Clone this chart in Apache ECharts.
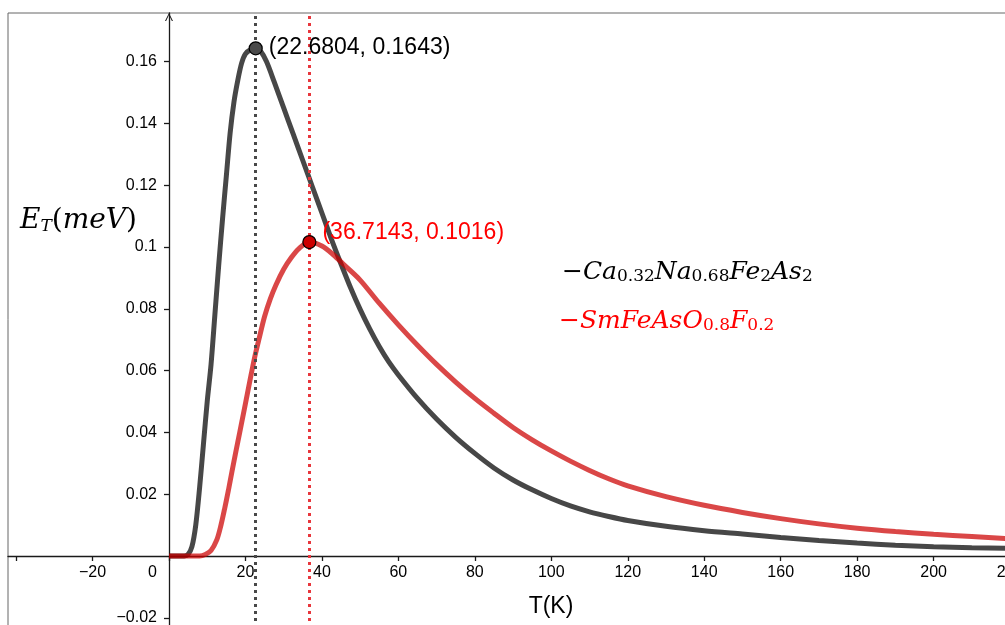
<!DOCTYPE html>
<html>
<head>
<meta charset="utf-8">
<script src="https://cdn.jsdelivr.net/npm/echarts@6/dist/echarts.min.js"></script>
<style>html,body{margin:0;padding:0;background:#fff}#c{width:1005px;height:625px}</style>
</head>
<body>
<div id="c"></div>
<script>
// ---- data ----
const blackT = [0,4,5,6,7,8,9,10,11,12,13,14,15,16,17,18,19,20,21.5,22.68,24,25.5,27.5,30,32.5,35,37.5,40,42.5,45,47.5,50,52.5,55,57.5,60,65,70,75,80,85,90,95,100,105,110,115,120,130,140,150,160,170,180,190,200,210,220];
const blackE = [0,0,0.0005,0.003,0.010,0.022,0.036,0.050,0.062,0.078,0.094,0.109,0.123,0.137,0.147,0.154,0.1595,0.1625,0.1640,0.1643,0.1633,0.1600,0.1535,0.1450,0.1365,0.1280,0.1195,0.1110,0.1025,0.0945,0.0868,0.0798,0.0735,0.0678,0.0628,0.0586,0.0510,0.0443,0.0384,0.0332,0.0285,0.0246,0.0214,0.0186,0.0162,0.0143,0.0128,0.0115,0.0096,0.0082,0.0071,0.0060,0.0050,0.0042,0.0035,0.0030,0.0027,0.0025];
const redT = [0,8,9.5,11,12.5,13.5,14.5,15.5,16.5,17.5,18.5,19.5,20.5,21.5,22.5,23.5,25,26.5,28,30,32,34,36.71,40,43,46,50,55,60,65,70,75,80,85,90,95,100,105,110,115,120,130,140,150,160,170,180,190,200,210,220];
const redE = [0,0,0.0005,0.0018,0.0052,0.0095,0.0150,0.0210,0.0275,0.0338,0.0400,0.0462,0.0525,0.0588,0.0648,0.0700,0.0775,0.0832,0.0878,0.0928,0.0966,0.0995,0.1016,0.1003,0.0975,0.0940,0.0893,0.0818,0.0748,0.0682,0.0620,0.0563,0.0510,0.0462,0.0416,0.0376,0.0340,0.0307,0.0277,0.0250,0.0227,0.0192,0.0164,0.0141,0.0121,0.0104,0.0090,0.0079,0.0070,0.0063,0.0056];
const peakT = [22.6804, 36.7143];
const peakE = [0.1643, 0.1016];
const xTicks = [-40,-20,0,20,40,60,80,100,120,140,160,180,200,220];
const xLabels = [-20,0,20,40,60,80,100,120,140,160,180,200,220];
const yTicks = [-0.02,0.02,0.04,0.06,0.08,0.1,0.12,0.14,0.16];
const yLabels = [-0.02,0.02,0.04,0.06,0.08,0.1,0.12,0.14,0.16];
const xTitle = 'T(K)';

const blackData = blackT.map((t,i)=>[t, blackE[i]]);
const redData = redT.map((t,i)=>[t, redE[i]]);
const MINUS = '\u2212';
const sans = 'Liberation Sans';
const serif = 'DejaVu Serif';

const chart = echarts.init(document.getElementById('c'), null, {renderer:'canvas'});
const axisCol = '#1a1a1a';

const X_MIN = -42.11, X_MAX = 221.29, Y_MIN = -0.02557, Y_MAX = 0.17573;
const G = {left: 8, top: 13, right: -10, bottom: -10};
const gridW = 1005 - G.left - G.right, gridH = 625 - G.top - G.bottom;
// distance from grid edges to the zero lines (so the axes sit on zero, as onZero would)
const yZeroFromBottom = (0 - Y_MIN) / (Y_MAX - Y_MIN) * gridH;
const xZeroFromLeft = (0 - X_MIN) / (X_MAX - X_MIN) * gridW;

const mainStyle = {fontFamily: serif, fontStyle:'italic', fontSize: 25, lineHeight: 30, verticalAlign:'bottom'};
const subStyle = {fontFamily: serif, fontStyle:'normal', fontSize: 17, lineHeight: 16, verticalAlign:'bottom'};
const upStyle = {fontFamily: serif, fontStyle:'normal', fontSize: 25, lineHeight: 30, verticalAlign:'bottom'};

function colored(st, c, extra){ return Object.assign({}, st, extra || {}, {fill: c, color: c}); }

const option = {
  animation: false,
  backgroundColor: '#fff',
  grid: Object.assign({containLabel: false, outerBoundsMode: 'none',
    show: true, borderColor: '#666', borderWidth: 1, backgroundColor: 'transparent'}, G),
  xAxis: {
    type: 'value', min: X_MIN, max: X_MAX, position: 'bottom', offset: -yZeroFromBottom,
    axisLine: {onZero: false, lineStyle: {color: axisCol, width: 1.3}},
    axisTick: {show: true, length: 5, customValues: xTicks, lineStyle: {color: axisCol, width: 1.3}},
    axisLabel: {
      customValues: xLabels, margin: 9, color: '#000', fontFamily: sans, fontSize: 16, hideOverlap: false,
      formatter: v => v === 0 ? '{z|0}' : String(v).replace('-', MINUS),
      rich: {z: {fontFamily: sans, fontSize: 16, color: '#000', padding: [0, 33, 0, 0]}}
    },
    splitLine: {show: false}
  },
  yAxis: {
    type: 'value', min: Y_MIN, max: Y_MAX, position: 'left', offset: -xZeroFromLeft,
    axisLine: {onZero: false, lineStyle: {color: axisCol, width: 1.3},
      symbol: ['none', 'path://M0,10 L5,0 L10,10 L8.6,10 L5,2.6 L1.4,10 Z'], symbolSize: [11, 8], symbolOffset: [0, -4]},
    axisTick: {show: true, length: 5, customValues: yTicks, lineStyle: {color: axisCol, width: 1.3}},
    axisLabel: {
      customValues: yLabels, margin: 12, color: '#000', fontFamily: sans, fontSize: 16, hideOverlap: false,
      formatter: v => String(+(+v).toFixed(2)).replace('-', MINUS)
    },
    splitLine: {show: false}
  },
  graphic: [
    {type: 'text', x: 20, y: 218, z: 100, style: {
      text: '{i|E}{s|T}{u|(}{i|meV}{u|)}', align: 'left', verticalAlign: 'middle',
      rich: {i: colored(mainStyle, '#000', {fontSize: 28, lineHeight: 34}),
             s: colored(subStyle, '#000', {fontStyle: 'italic'}),
             u: colored(upStyle, '#000', {fontSize: 28, lineHeight: 34})}
    }},
    {type: 'text', x: 551, y: 607, z: 100, style: {
      text: xTitle, align: 'center', verticalAlign: 'middle', fontFamily: sans, fontSize: 23, fill: '#000'
    }},
    {type: 'text', x: 562, y: 270, z: 100, style: {
      text: '{u|' + MINUS + '}{i|Ca}{s|0.32}{i|Na}{s|0.68}{i|Fe}{s|2}{i|As}{s|2}', align: 'left', verticalAlign: 'middle',
      rich: {i: colored(mainStyle, '#000'), s: colored(subStyle, '#000'), u: colored(upStyle, '#000')}
    }},
    {type: 'text', x: 559, y: 319, z: 100, style: {
      text: '{u|' + MINUS + '}{i|SmFeAsO}{s|0.8}{i|F}{s|0.2}', align: 'left', verticalAlign: 'middle', fill: '#f00',
      rich: {i: colored(mainStyle, '#f00'), s: colored(subStyle, '#f00'), u: colored(upStyle, '#f00')}
    }}
  ],
  series: [
    {
      type: 'line', data: blackData, showSymbol: false, smooth: 0.3, z: 3,
      lineStyle: {color: 'rgba(0,0,0,0.72)', width: 5},
      markLine: {silent: true, symbol: ['none','none'], label: {show: false},
        lineStyle: {color: '#484848', type: [3, 4], width: 3}, data: [{xAxis: peakT[0]}]}
    },
    {
      type: 'line', data: redData, showSymbol: false, smooth: 0.3, z: 4,
      lineStyle: {color: 'rgba(204,0,0,0.72)', width: 5},
      markLine: {silent: true, symbol: ['none','none'], label: {show: false},
        lineStyle: {color: '#e8363c', type: [3, 4], width: 3}, data: [{xAxis: peakT[1]}]}
    },
    {
      type: 'scatter', z: 10, symbolSize: 13, itemStyle: {opacity: 1},
      data: [
        {value: [peakT[0], peakE[0]], itemStyle: {color: '#4a4a4a', borderColor: '#000', borderWidth: 1.2, opacity: 1},
          label: {color: '#000', offset: [0, -1]}},
        {value: [peakT[1], peakE[1]], itemStyle: {color: '#cc0000', borderColor: '#000', borderWidth: 1.2, opacity: 1},
          label: {color: '#f00', offset: [0, -9]}}
      ],
      label: {show: true, position: 'right', distance: 6, fontFamily: sans, fontSize: 23, color: '#000', opacity: 1,
        formatter: p => '(' + p.value[0] + ', ' + p.value[1] + ')'}
    }
  ]
};
chart.setOption(option);
</script>
</body>
</html>
